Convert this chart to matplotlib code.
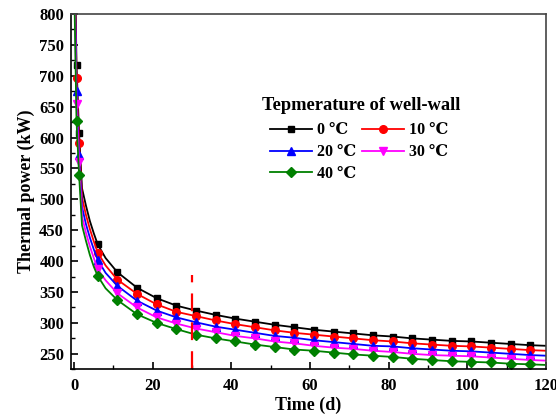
import matplotlib
matplotlib.use("Agg")
import matplotlib.pyplot as plt
from matplotlib.ticker import MultipleLocator

plt.rcParams['font.family'] = ['Liberation Serif', 'DejaVu Serif']
plt.rcParams['font.weight'] = 'bold'

# time (d)
t = [0.05, 0.6, 1.25, 2, 3, 4, 5, 6, 8, 11, 16, 21, 26, 31, 36, 41, 46, 51, 56,
     61, 66, 71, 76, 81, 86, 91, 96, 101, 106, 111, 116, 120]

# thermal power (kW) for each well-wall temperature
p0 = [950, 717, 608, 518, 490, 465, 445, 427, 405, 382, 357, 340, 328, 320, 313, 307,
      302, 297, 293, 289, 286, 283, 280, 278, 275, 273, 271, 270, 268, 266, 264, 263]
p10 = [922, 697, 591, 503, 475, 452, 432, 414, 393, 370, 347, 330, 318, 311, 304, 298,
       293, 288, 284, 281, 278, 275, 272, 270, 267, 265, 263, 262, 260, 258, 256, 255]
p20 = [894, 676, 572, 488, 460, 438, 419, 402, 381, 360, 336, 320, 309, 301, 294, 289,
       284, 279, 276, 272, 269, 266, 263, 262, 259, 257, 255, 254, 252, 250, 248, 247]
p30 = [865, 654, 561, 472, 446, 424, 405, 387, 369, 348, 325, 309, 299, 291, 285, 279,
       275, 270, 267, 263, 260, 258, 255, 253, 250, 248, 247, 246, 244, 242, 240, 239]
p40 = [836, 627, 540, 458, 433, 410, 391, 376, 356, 337, 314, 300, 290, 281, 275, 270,
       265, 261, 257, 255, 252, 249, 247, 245, 242, 240, 238, 237, 236, 234, 233, 232]

labels = ['0 \u2103', '10 \u2103', '20 \u2103', '30 \u2103', '40 \u2103']
colors = ['black', 'red', 'blue', 'magenta', 'green']
markers = ['s', 'o', '^', 'v', 'D']
msizes = [5, 5.5, 6, 6, 5]

# markers only on these points
mark_idx = [1, 2, 7] + list(range(9, len(t) - 1))

fig = plt.figure(figsize=(5.56, 4.16), dpi=100)
ax = fig.add_axes([0.1277, 0.1123, 0.8543, 0.854])

series = [p0, p10, p20, p30, p40]
lines = []
for i in range(5):
    ln, = ax.plot(t, series[i], color=colors[i], marker=markers[i], markersize=msizes[i],
                  markevery=mark_idx, linewidth=1.3, label=labels[i])
    lines.append(ln)

# time marker at 30 d
ax.plot([30, 30], [225, 378], color='red', linestyle=(0, (8, 5)), linewidth=1.6)

ax.set_xlim(-0.8, 120)
ax.set_ylim(225, 800)
ax.xaxis.set_major_locator(MultipleLocator(20))
ax.xaxis.set_minor_locator(MultipleLocator(10))
ax.yaxis.set_major_locator(MultipleLocator(50))
ax.yaxis.set_minor_locator(MultipleLocator(25))
ax.tick_params(which='both', direction='in', top=False, right=False, labelsize=12)
ax.tick_params(which='major', length=5, width=1.2)
ax.tick_params(axis='y', pad=5)
ax.tick_params(axis='x', pad=6)
ax.tick_params(which='minor', length=3, width=1.0)
for s in ax.spines.values():
    s.set_linewidth(1.2)
ax.spines['top'].set_color('#444444')
ax.spines['right'].set_color('#444444')

ax.set_xlabel('Time (d)', fontsize=13, fontweight='bold', labelpad=2)
ax.set_ylabel('Thermal power (kW)', fontsize=13, fontweight='bold', labelpad=3)

# legend: row order 0,10 / 20,30 / 40
order = [0, 2, 4, 1, 3]
ax.legend([lines[k] for k in order], [labels[k] for k in order], ncol=2, frameon=False,
          loc='upper left', bbox_to_anchor=(259 / 556, 1 - 111 / 416),
          bbox_transform=fig.transFigure, fontsize=11.5, handlelength=2.6,
          handletextpad=0.35, columnspacing=0.35, labelspacing=0.37, borderpad=0.2)
fig.text(262 / 556, 1 - 105 / 416, 'Tepmerature of well-wall', fontsize=13.3,
         fontweight='bold', ha='left', va='center')

fig.savefig('out.png', dpi=100)
